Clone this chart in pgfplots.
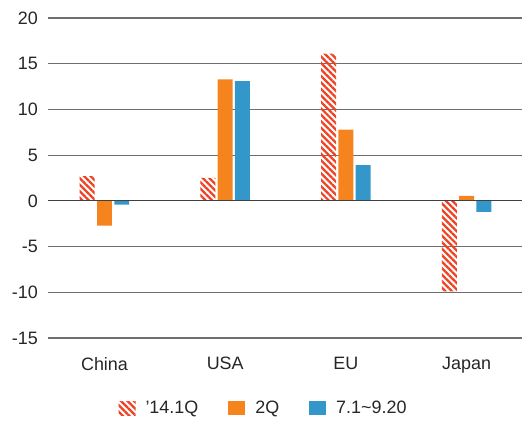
\documentclass[border=0pt]{standalone}
\usepackage{pgfplots}
\pgfplotsset{compat=1.18}
\usepackage{fontspec}
\setmainfont{Liberation Sans}
\usetikzlibrary{patterns.meta}

\definecolor{hatchred}{RGB}{238,66,36}
\definecolor{barorange}{RGB}{245,132,31}
\definecolor{barblue}{RGB}{52,151,201}
\definecolor{txt}{RGB}{38,38,38}
\definecolor{gridgray}{RGB}{110,110,110}

\newcommand\lblfont{\fontsize{18}{20}\selectfont}

\begin{document}
\begin{tikzpicture}
\path[use as bounding box] (0,0) rectangle (522bp,429bp);
\begin{axis}[
  at={(48bp,91bp)}, anchor=south west,
  scale only axis,
  width=474bp, height=320bp,
  xmin=-0.468, xmax=3.459,
  ymin=-15, ymax=20,
  axis line style={draw=none},
  ytick={-15,-10,-5,0,5,10,15,20},
  yticklabels={-15,-10,-5,0,5,10,15,20},
  xtick={0,1,2,3},
  xticklabels={China,USA,EU,Japan},
  major tick length=0pt,
  ymajorgrids,
  grid style={gridgray, line width=1.1pt},
  yticklabel style={font=\lblfont, text=txt, anchor=east, inner sep=0pt, xshift=-10bp},
  xticklabel style={font=\lblfont, text=txt, anchor=north, inner sep=0pt, yshift=-19bp},
  ybar, bar width=0.124,
  legend columns=3,
  legend style={draw=none, font=\lblfont, text=txt,
    at={(0.4547,-0.219)}, anchor=center,
    /tikz/every even column/.append style={column sep=28bp},
    /tikz/every odd column/.append style={column sep=8bp}},
  legend image code/.code={\fill[#1] (0bp,-7bp) rectangle (17bp,7bp);},
]
\addplot[draw=none, bar shift=-0.143,
  pattern={Lines[angle=-45,distance=4.6pt,line width=2.3pt]}, pattern color=hatchred]
  coordinates {(0,2.7) (1,2.5) (2,16.1) (3,-9.9)};
\addplot[draw=none, fill=barorange, bar shift=0]
  coordinates {(0,-2.7) (1,13.3) (2,7.8) (3,0.55)};
\addplot[draw=none, fill=barblue, bar shift=0.143]
  coordinates {(0,-0.4) (1,13.1) (2,3.9) (3,-1.2)};
\legend{'14.1Q, 2Q, 7.1\textasciitilde 9.20}
\draw[color=black!75, line width=1.1pt] (axis cs:-0.468,0) -- (axis cs:3.459,0);
\end{axis}
\end{tikzpicture}
\end{document}
